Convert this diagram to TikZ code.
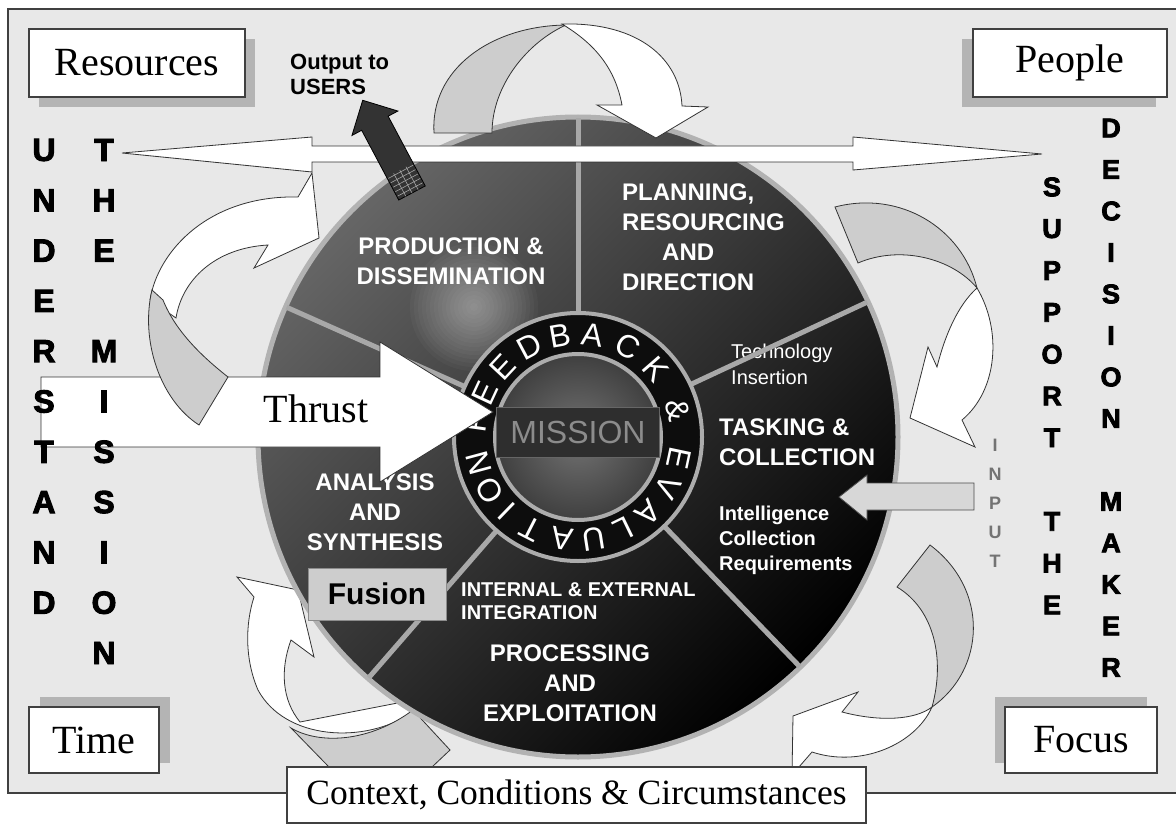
\documentclass[tikz,border=0pt]{standalone}
\usepackage{fontspec}
\setmainfont{Liberation Serif}
\newfontfamily\arialfont{Liberation Sans}
\newfontfamily\heavyfont{Liberation Sans}[FakeBold=3]
\usetikzlibrary{shadows}
\definecolor{framegray}{HTML}{E8E8E8}
\definecolor{shadowgray}{HTML}{B4B4B4}
\definecolor{spokegray}{HTML}{A8A8A8}
\definecolor{backgray}{HTML}{CDCDCD}
\definecolor{darkbox}{HTML}{2E2E2E}
\definecolor{missiontext}{HTML}{8C8C8C}
\tikzset{
  labelbox/.style={draw=black!75, line width=1.2pt, fill=white, inner sep=0pt, font=\fontsize{40}{40}\selectfont},
  sectortext/.style={text=white, font=\arialfont\bfseries\fontsize{24}{30}\selectfont, inner sep=0pt},
  smalltext/.style={text=white, font=\arialfont\fontsize{20}{26}\selectfont, inner sep=0pt, align=left},
  ringletter/.style={text=white, font=\arialfont\fontsize{32}{32}\selectfont, inner sep=0pt},
  bigletter/.style={font=\heavyfont\bfseries\fontsize{32}{32}\selectfont, inner sep=0pt},
  midletter/.style={font=\heavyfont\bfseries\fontsize{27}{27}\selectfont, inner sep=0pt},
  inletter/.style={text=black!55, font=\arialfont\bfseries\fontsize{18}{18}\selectfont, inner sep=0pt},
  ribbon/.style={draw=black!80, line width=0.8pt, fill=white},
  ribbonback/.style={draw=black!80, line width=0.8pt, fill=backgray},
  spoke/.style={draw=spokegray, line width=5pt},
}
\begin{document}
\begin{tikzpicture}[x=1pt,y=-1pt]
  \useasboundingbox (0,0) rectangle (1176,824);
  %%%%% START %%%%%

  \draw[fill=framegray, draw=black!75, line width=1.5pt] (8,9) rectangle (1190,793);

  \node[labelbox, minimum width=216, minimum height=68,
    drop shadow={shadow xshift=10pt, shadow yshift=-10pt, fill=shadowgray, opacity=1}] (resources) at (137,63) {Resources};
  \node[labelbox, minimum width=194, minimum height=68,
    drop shadow={shadow xshift=-11pt, shadow yshift=-10pt, fill=shadowgray, opacity=1}] (people) at (1070,63) {People};
  \node[labelbox, minimum width=130, minimum height=66,
    drop shadow={shadow xshift=11pt, shadow yshift=10pt, fill=shadowgray, opacity=1}] (time) at (94,740) {Time};
  \node[labelbox, minimum width=152, minimum height=66,
    drop shadow={shadow xshift=-10pt, shadow yshift=10pt, fill=shadowgray, opacity=1}] (focus) at (1081,740) {Focus};

  % arrow under the wheel (bottom left)
  \draw[ribbon] (254,597) -- (237,577) -- (298,590) -- (314,657) -- (291,640)
    .. controls (280,670) and (282,700) .. (300,722) -- (413,700) -- (413,712)
    .. controls (365,745) and (285,740) .. (258,690) .. controls (245,660) and (245,625) .. (254,597) -- cycle;
  \draw[ribbonback] (291,728) -- (329,767) -- (432,767) -- (450,750) -- (413,710)
    .. controls (370,742) and (320,745) .. (291,728) -- cycle;

  %%%%% WHEEL %%%%%
  \shade[top color=black!60, bottom color=black, middle color=black!80, shading angle=45] (578,437) circle (320);
  \foreach \r in {64,60,...,4}
    \fill[white, opacity=0.03] (474,307) circle (\r);
  \draw[gray!60, line width=5pt] (578,437) circle (320);

  \node[sectortext, align=center] (prod) at (451,261) {PRODUCTION \&\\DISSEMINATION};
  \node[sectortext, align=left, anchor=west] (plan) at (622,237) {PLANNING,\\RESOURCING\\\hspace*{40pt}AND\\DIRECTION};
  \node[smalltext, anchor=west] (tech) at (731,364) {Technology\\Insertion};
  \node[sectortext, align=left, anchor=west] (task) at (719,442) {TASKING \&\\COLLECTION};
  \node[smalltext, font=\arialfont\bfseries\fontsize{20}{25}\selectfont, anchor=west] (icr) at (719,540) {Intelligence\\Collection\\Requirements};
  \node[sectortext, align=center] (anal) at (375,512) {ANALYSIS\\AND\\SYNTHESIS};
  \node[smalltext, font=\arialfont\bfseries\fontsize{20}{23}\selectfont, anchor=west] (intext) at (461,601) {INTERNAL \& EXTERNAL\\INTEGRATION};
  \node[sectortext, align=center] (proc) at (570,683) {PROCESSING\\AND\\EXPLOITATION};

  \begin{scope}[shift={(578,437)}]
    \foreach \a in {90,156,25,-46,229}
      \draw[spoke] (-\a:125) -- (-\a:319);
    \fill[black!95] (0,0) circle (125);
    \draw[gray!65, line width=4pt] (0,0) circle (124);
    \shade[inner color=black!55, outer color=black!75] (0,0) circle (82);
    \draw[gray!65, line width=4pt] (0,0) circle (83);
    \foreach \ch/\a in {F/172,E/155,E/137,D/118,B/100,A/82,C/61,K/41,{\&}/15,E/-12,V/-29,A/-47,L/-64,U/-81,A/-99,T/-117,I/-134,O/-149,N/-165}
      \node[ringletter, rotate=\a-90] at (-\a:103) {\ch};
  \end{scope}

  \node[fill=darkbox, draw=black!60, line width=1pt, minimum width=163, minimum height=50, inner sep=0pt,
    text=missiontext, font=\arialfont\fontsize{32}{32}\selectfont] (mission) at (578,432) {MISSION};
  \node[fill=backgray, draw=black!45, line width=1pt, minimum width=138, minimum height=52, inner sep=0pt,
    font=\arialfont\bfseries\fontsize{30}{30}\selectfont] (fusion) at (377,594) {Fusion};

  %%%%% ARROWS %%%%%
  \draw[ribbon] (122,153) -- (312,137) -- (312,146) -- (853,146) -- (853,137) -- (1042,154)
    -- (853,170) -- (853,162) -- (312,162) -- (312,172) -- cycle;

  \begin{scope}[shift={(412,193)}, rotate=118]
    \draw[fill=black!80, draw=black, line width=0.8pt] (0,-15) -- (79,-15) -- (79,-26) -- (105,0) -- (79,26) -- (79,15) -- (0,15) -- cycle;
    \foreach \s in {4,9,14,19,24}
      \draw[gray!70, line width=0.6pt] (\s,-14) -- (\s,14);
    \foreach \t in {-7,0,7}
      \draw[gray!70, line width=0.6pt] (0,\t) -- (26,\t);
  \end{scope}
  \node[anchor=north west, align=left, inner sep=0pt, font=\arialfont\bfseries\fontsize{22}{25}\selectfont] (output) at (290,54) {Output to\\USERS};

  % top
  \draw[ribbonback] (434,133) .. controls (430,70) and (490,26) .. (566,25)
    .. controls (528,42) and (492,85) .. (492,133) -- cycle;
  \draw[ribbon] (562,24) .. controls (640,22) and (680,60) .. (682,106) -- (708,107) -- (656,138) -- (597,105) -- (622,105)
    .. controls (615,68) and (595,44) .. (562,24) -- cycle;

  % right upper
  \draw[ribbonback] (835,207) .. controls (900,190) and (962,228) .. (977,288)
    .. controls (952,258) and (900,245) .. (858,263) -- cycle;
  \draw[ribbon] (977,288) .. controls (1002,330) and (998,390) .. (962,420) -- (975,447) -- (910,418) -- (928,347) -- (937,367)
    .. controls (945,335) and (958,305) .. (977,288) -- cycle;

  % right lower
  \draw[ribbonback] (930,545) .. controls (990,590) and (985,670) .. (932,707)
    .. controls (945,660) and (935,610) .. (897,587) -- cycle;
  \draw[ribbon] (932,707) .. controls (915,745) and (860,768) .. (812,752) -- (792,775) -- (793,716) -- (858,692) -- (842,712)
    .. controls (880,722) and (915,720) .. (932,707) -- cycle;

  % left upper
  \draw[ribbon] (150,300) .. controls (158,250) and (210,195) .. (298,197) -- (312,173) -- (319,238) -- (254,268) -- (268,245)
    .. controls (215,248) and (182,280) .. (176,318) -- cycle;

  \draw[ribbon] (41,377) -- (380,377) -- (380,342) -- (493,412) -- (380,482) -- (380,447) -- (41,447) -- cycle;
  \node[inner sep=0pt, font=\fontsize{40}{40}\selectfont] (thrust) at (316,409) {Thrust};

  \draw[ribbonback] (152,290) .. controls (140,340) and (160,400) .. (199,425) -- (228,377)
    .. controls (200,355) and (175,330) .. (163,300) -- cycle;

  \draw[fill=backgray!80, draw=black!70, line width=0.8pt] (839,497) -- (867,475) -- (867,483) -- (974,483)
    -- (974,510) -- (867,510) -- (867,520) -- cycle;

  %%%%% LETTERS %%%%%
  \foreach \ch/\k in {U/0,N/1,D/2,E/3,R/4,S/5,T/6,A/7,N/8,D/9}
    \node[bigletter] (under\k) at (44,{150+50.3*\k}) {\ch};
  \foreach \ch/\k in {T/0,H/1,E/2,M/4,I/5,S/6,S/7,I/8,O/9,N/10}
    \node[bigletter] (mis\k) at (104,{150+50.3*\k}) {\ch};
  \foreach \ch/\k in {S/0,U/1,P/2,P/3,O/4,R/5,T/6,T/8,H/9,E/10}
    \node[midletter] (sup\k) at (1052,{187+41.8*\k}) {\ch};
  \foreach \ch/\k in {D/0,E/1,C/2,I/3,S/4,I/5,O/6,N/7,M/9,A/10,K/11,E/12,R/13}
    \node[midletter] (dec\k) at (1111,{128+41.5*\k}) {\ch};
  \foreach \ch/\k in {I/0,N/1,P/2,U/3,T/4}
    \node[inletter] (input\k) at (995,{445+29*\k}) {\ch};

  \node[labelbox, minimum width=579, minimum height=56, font=\fontsize{35.5}{36}\selectfont] (context) at (576.5,795) {Context, Conditions \& Circumstances};

  %%%%% END %%%%%
\end{tikzpicture}
\end{document}
